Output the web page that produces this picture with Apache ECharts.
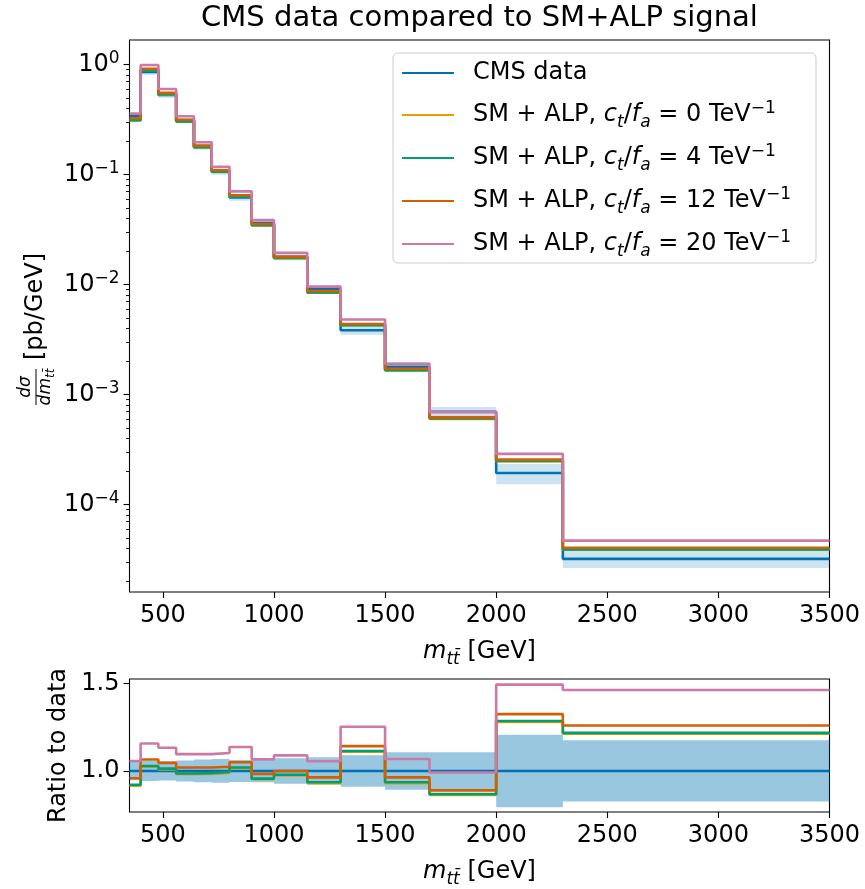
<!DOCTYPE html>
<html>
<head>
<meta charset="utf-8">
<script src="https://cdn.jsdelivr.net/npm/echarts@6/dist/echarts.min.js"></script>
<style>
  html, body { margin: 0; padding: 0; background: #fff; }
  #chart { width: 865px; height: 889px; }
</style>
</head>
<body>
<div id="chart"></div>
<script>
// m_tt bin edges [GeV]
const binEdges = [350, 400, 480, 560, 640, 720, 800, 900, 1000, 1150, 1300, 1500, 1700, 2000, 2300, 3500];

// Measured differential cross section [pb/GeV] and its uncertainty
const cmsData = [0.340, 0.860, 0.530, 0.310, 0.180, 0.107, 0.0620, 0.0363, 0.0179, 0.0091, 0.00385, 0.00179, 0.00070, 0.000194, 0.0000322];
const cmsErr  = [0.018, 0.0499, 0.0292, 0.0186, 0.0117, 0.00728, 0.00391, 0.00236, 0.00131, 0.00071, 0.000347, 0.000192, 0.0000749, 0.0000402, 0.00000564];

// SM + ALP predictions [pb/GeV] for c_t/f_a = 0, 4, 12, 20 TeV^-1
const alp0  = [0.3111, 0.8806, 0.5348, 0.3041, 0.1769, 0.1058, 0.06299, 0.03456, 0.01743, 0.008463, 0.004274, 0.001665, 0.0006034, 0.0002485, 0.00003906];
const alp4  = [0.3131, 0.8841, 0.5369, 0.3054, 0.1777, 0.1063, 0.06324, 0.03470, 0.01751, 0.008509, 0.004289, 0.001674, 0.0006069, 0.0002495, 0.00003922];
const alp12 = [0.3257, 0.9159, 0.5544, 0.3162, 0.1836, 0.1096, 0.06510, 0.03568, 0.01790, 0.008763, 0.004397, 0.001724, 0.0006223, 0.0002570, 0.00004057];
const alp20 = [0.3594, 0.9950, 0.6005, 0.3398, 0.1973, 0.1180, 0.07049, 0.03870, 0.01949, 0.009601, 0.004824, 0.001912, 0.0006937, 0.0002898, 0.00004711];

const couplings = [0, 4, 12, 20];
const alpSets = [alp0, alp4, alp12, alp20];

// Axis ticks
const xTicks = [500, 1000, 1500, 2000, 2500, 3000, 3500];
const logTicks = [1e-4, 1e-3, 1e-2, 1e-1, 1];
const ratioTicks = [1.0, 1.5];

const FONT = 'DejaVu Sans';
const BLUE = '#0072B2';
const alpColors = ['#E69F00', '#009E73', '#D55E00', '#CC79A7'];
const LINE_W = 2.6;

const X_MIN = 350, X_MAX = 3500;
const Y_MIN = 1.608e-5, Y_MAX = 1.677;
const R_MIN = 0.765, R_MAX = 1.526;

// minor ticks of the log axis: 2..9 x 10^n
const minorTicks = [];
for (let e = -5; e <= 0; e++) {
  for (let k = 2; k <= 9; k++) {
    const v = k * Math.pow(10, e);
    if (v > Y_MIN && v < Y_MAX) minorTicks.push(v);
  }
}

// rich text styles for mathtext-like labels
function richStyles(size, lh) {
  const small = Math.round(size * 0.7);
  return {
    n:    { fontFamily: FONT, fontSize: size, color: '#000', lineHeight: lh },
    lead: { fontFamily: FONT, fontSize: size, color: '#000', lineHeight: lh, padding: [0, 0, 0, 14] },
    i:    { fontFamily: FONT, fontSize: size, fontStyle: 'italic', color: '#000', lineHeight: lh },
    isub: { fontFamily: FONT, fontSize: small, fontStyle: 'italic', color: '#000', lineHeight: lh, padding: [15, 0, 0, 0] },
    sup:  { fontFamily: FONT, fontSize: small, color: '#000', lineHeight: lh, padding: [0, 0, 13, 0] }
  };
}

const alpNames = couplings.map(c => 'SM + ALP, ct/fa = ' + c);
function legendText(name) {
  if (name === 'CMS data') return '{lead|CMS data}';
  const c = name.split('= ')[1];
  return '{lead|SM + ALP, }{i|c}{isub|t}{n|/}{i|f}{isub|a}{n| = ' + c + ' TeV}{sup|−1}';
}

// step line points: left edge of each bin, plus right edge of last bin
function stepPoints(values) {
  const pts = values.map((v, i) => [binEdges[i], v]);
  pts.push([binEdges[binEdges.length - 1], values[values.length - 1]]);
  return pts;
}

// filled step band between lo and hi
function bandRenderer(lo, hi, fill) {
  return function (params, api) {
    const pts = [];
    for (let i = 0; i < hi.length; i++) {
      pts.push(api.coord([binEdges[i], hi[i]]));
      pts.push(api.coord([binEdges[i + 1], hi[i]]));
    }
    for (let i = lo.length - 1; i >= 0; i--) {
      pts.push(api.coord([binEdges[i + 1], lo[i]]));
      pts.push(api.coord([binEdges[i], lo[i]]));
    }
    return { type: 'polygon', shape: { points: pts }, style: { fill: fill } };
  };
}

const dataLo = cmsData.map((v, i) => v - cmsErr[i]);
const dataHi = cmsData.map((v, i) => v + cmsErr[i]);
const ratioLo = cmsData.map((v, i) => 1 - cmsErr[i] / v);
const ratioHi = cmsData.map((v, i) => 1 + cmsErr[i] / v);
const ratioData = cmsData.map(v => v / v);
const alpRatios = alpSets.map(s => s.map((v, i) => v / cmsData[i]));

const tickStyle = { color: '#000', width: 1.1 };
const xName = '{i|m}{isub|tt̄}{n| [GeV]}';

function xAxisFor(grid) {
  return {
    type: 'value', gridIndex: grid, min: X_MIN, max: X_MAX,
    axisLine: { show: false }, splitLine: { show: false },
    axisTick: { show: true, customValues: xTicks, length: 6, lineStyle: tickStyle },
    axisLabel: { customValues: xTicks, fontFamily: FONT, fontSize: 24, color: '#000', margin: 12, formatter: v => String(v) },
    name: xName, nameLocation: 'middle', nameGap: 45,
    nameTextStyle: { rich: richStyles(24, 30) }
  };
}

const lineCommon = { type: 'line', step: 'end', symbol: 'none', showSymbol: false, silent: true, animation: false };

const series = [];
// top panel
series.push({
  type: 'custom', name: 'CMS band', xAxisIndex: 0, yAxisIndex: 0, silent: true, clip: true,
  renderItem: bandRenderer(dataLo, dataHi, 'rgba(0,114,178,0.2)'),
  data: [[binEdges[0], cmsData[0]]]
});
series.push(Object.assign({}, lineCommon, {
  name: 'CMS data', xAxisIndex: 0, yAxisIndex: 0, data: stepPoints(cmsData),
  lineStyle: { color: BLUE, width: LINE_W }, itemStyle: { color: BLUE }
}));
alpSets.forEach((s, k) => {
  series.push(Object.assign({}, lineCommon, {
    name: alpNames[k], xAxisIndex: 0, yAxisIndex: 0, data: stepPoints(s),
    lineStyle: { color: alpColors[k], width: LINE_W }, itemStyle: { color: alpColors[k] }
  }));
});
// ratio panel
series.push({
  type: 'custom', name: 'CMS ratio band', xAxisIndex: 1, yAxisIndex: 2, silent: true, clip: true,
  renderItem: bandRenderer(ratioLo, ratioHi, 'rgba(0,114,178,0.4)'),
  data: [[binEdges[0], 1]]
});
series.push(Object.assign({}, lineCommon, {
  name: 'CMS data', xAxisIndex: 1, yAxisIndex: 2, data: stepPoints(ratioData),
  lineStyle: { color: BLUE, width: LINE_W }, itemStyle: { color: BLUE }
}));
alpRatios.forEach((s, k) => {
  series.push(Object.assign({}, lineCommon, {
    name: alpNames[k], xAxisIndex: 1, yAxisIndex: 2, data: stepPoints(s),
    lineStyle: { color: alpColors[k], width: LINE_W }, itemStyle: { color: alpColors[k] }
  }));
});

const supRich = {
  b: { fontFamily: FONT, fontSize: 24, color: '#000', lineHeight: 30 },
  s: { fontFamily: FONT, fontSize: 17, color: '#000', lineHeight: 30, padding: [0, 0, 13, 0] }
};

const option = {
  animation: false,
  backgroundColor: '#fff',
  grid: [
    { left: 129.5, width: 700, top: 40, height: 552, show: true, borderColor: '#000', borderWidth: 1.1, backgroundColor: 'transparent' },
    { left: 129.5, width: 700, top: 679, height: 138, show: true, borderColor: '#000', borderWidth: 1.1, backgroundColor: 'transparent' }
  ],
  xAxis: [xAxisFor(0), xAxisFor(1)],
  yAxis: [
    {
      type: 'log', gridIndex: 0, position: 'left', min: Y_MIN, max: Y_MAX, logBase: 10,
      axisLine: { show: false }, splitLine: { show: false },
      axisTick: { show: true, customValues: logTicks, length: 6, lineStyle: tickStyle },
      axisLabel: {
        customValues: logTicks, margin: 10,
        formatter: function (v) {
          const e = Math.round(Math.log10(v));
          return '{b|10}{s|' + (e < 0 ? '−' + (-e) : String(e)) + '}';
        },
        rich: supRich
      }
    },
    {
      type: 'log', gridIndex: 0, position: 'left', offset: 0, min: Y_MIN, max: Y_MAX, logBase: 10,
      axisLine: { show: false }, splitLine: { show: false },
      axisTick: { show: true, customValues: minorTicks, length: 3.5, lineStyle: { color: '#000', width: 0.9 } },
      axisLabel: { show: false }
    },
    {
      type: 'value', gridIndex: 1, position: 'left', min: R_MIN, max: R_MAX,
      axisLine: { show: false }, splitLine: { show: false },
      axisTick: { show: true, customValues: ratioTicks, length: 6, lineStyle: tickStyle },
      axisLabel: {
        customValues: ratioTicks, margin: 10, fontFamily: FONT, fontSize: 24, color: '#000',
        formatter: v => Number(v).toFixed(1)
      },
      name: 'Ratio to data', nameLocation: 'middle', nameGap: 47,
      nameTextStyle: { fontFamily: FONT, fontSize: 24, color: '#000' }
    }
  ],
  legend: {
    data: ['CMS data'].concat(alpNames),
    orient: 'vertical', left: 393, top: 53,
    icon: 'rect', itemWidth: 52, itemHeight: 2.2, itemGap: 11,
    padding: [5, 25, 3, 9],
    borderColor: '#cccccc', borderWidth: 1, borderRadius: 5,
    backgroundColor: 'rgba(255,255,255,0.8)',
    selectedMode: false,
    formatter: legendText,
    textStyle: { fontFamily: FONT, fontSize: 24, color: '#000', lineHeight: 30, rich: richStyles(24, 30) }
  },
  graphic: [
    {
      type: 'text', x: 479.5, y: 18, silent: true,
      style: { text: 'CMS data compared to SM+ALP signal', fontFamily: FONT, fontSize: 29, fill: '#000', textAlign: 'center', textVerticalAlign: 'middle' }
    },
    {
      type: 'group', x: 36, y: 327, rotation: Math.PI / 2, silent: true,
      children: [
        { type: 'text', x: -60, y: -10, style: { text: 'dσ', fontFamily: FONT, fontSize: 17, fontStyle: 'italic', fill: '#000', textAlign: 'center', textVerticalAlign: 'middle' } },
        { type: 'line', shape: { x1: -78, y1: 0, x2: -42, y2: 0 }, style: { stroke: '#000', lineWidth: 1 } },
        {
          type: 'text', x: -60, y: 10,
          style: {
            text: '{a|dm}{b|tt̄}', textAlign: 'center', textVerticalAlign: 'middle',
            rich: {
              a: { fontFamily: FONT, fontSize: 17, fontStyle: 'italic', fill: '#000', lineHeight: 20 },
              b: { fontFamily: FONT, fontSize: 12, fontStyle: 'italic', fill: '#000', lineHeight: 20, padding: [9, 0, 0, 0] }
            }
          }
        },
        { type: 'text', x: -33, y: 0, style: { text: '[pb/GeV]', fontFamily: FONT, fontSize: 24, fill: '#000', textAlign: 'left', textVerticalAlign: 'middle' } }
      ]
    }
  ],
  series: series
};

const chart = echarts.init(document.getElementById('chart'), null, { renderer: 'canvas' });
chart.setOption(option);
</script>
</body>
</html>
